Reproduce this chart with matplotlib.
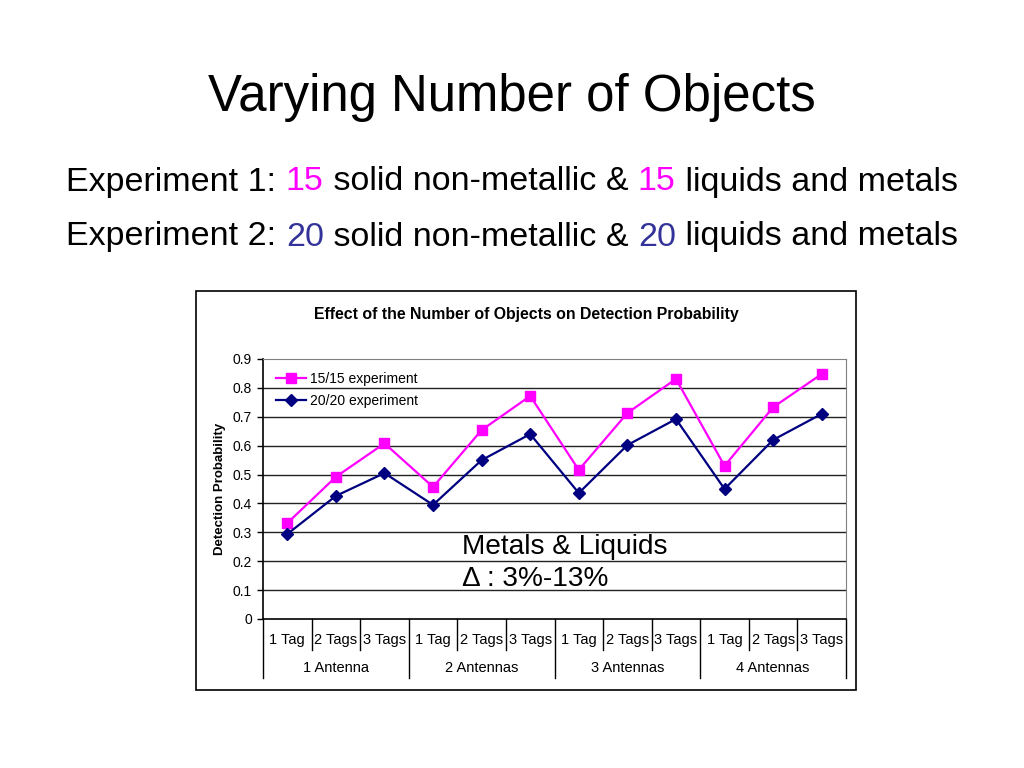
import matplotlib
matplotlib.use("Agg")
import matplotlib.pyplot as plt
import matplotlib.patches as mpatches
import matplotlib.transforms as mtransforms

plt.rcParams["font.family"] = ["Liberation Sans", "DejaVu Sans"]

# Data
tags = ["1 Tag", "2 Tags", "3 Tags"] * 4
antennas = ["1 Antenna", "2 Antennas", "3 Antennas", "4 Antennas"]
exp_15 = [0.332, 0.492, 0.608, 0.457, 0.654, 0.772, 0.516, 0.713, 0.831, 0.530, 0.733, 0.848]
exp_20 = [0.294, 0.426, 0.505, 0.395, 0.550, 0.640, 0.436, 0.602, 0.692, 0.450, 0.620, 0.710]
y_ticks = [0, 0.1, 0.2, 0.3, 0.4, 0.5, 0.6, 0.7, 0.8, 0.9]

MAGENTA = "#ff00ff"
NAVY = "#000080"
BLUE_TXT = "#333399"

W, H = 1024, 768
fig = plt.figure(figsize=(W / 100, H / 100), dpi=100)


def fx(px):
    return px / W


def fy(py):
    return 1 - py / H


# Slide title
fig.text(0.5, fy(97), "Varying Number of Objects", ha="center", va="center", fontsize=36.7)


def colored_line(y, parts, size=24.5):
    """Draw text segments with different colours side by side, centred."""
    texts = [fig.text(0, y, s, color=c, fontsize=size, ha="left", va="center")
             for s, c in parts]
    fig.canvas.draw()
    r = fig.canvas.get_renderer()
    widths = [t.get_window_extent(r).width for t in texts]
    x = (W - sum(widths)) / 2
    for t, w in zip(texts, widths):
        t.set_position((x / W, y))
        x += w


colored_line(fy(182), [("Experiment 1: ", "black"), ("15", MAGENTA),
                       (" solid non-metallic & ", "black"), ("15", MAGENTA),
                       (" liquids and metals", "black")])
colored_line(fy(237), [("Experiment 2: ", "black"), ("20", BLUE_TXT),
                       (" solid non-metallic & ", "black"), ("20", BLUE_TXT),
                       (" liquids and metals", "black")])

# Chart box
fig.patches.append(mpatches.Rectangle((fx(196), fy(690)), fx(856) - fx(196), fy(291) - fy(690),
                                      transform=fig.transFigure, fill=False,
                                      edgecolor="black", linewidth=1.2))
fig.text(fx(526), fy(314), "Effect of the Number of Objects on Detection Probability",
         ha="center", va="center", fontsize=11.4, fontweight="bold")

ax = fig.add_axes([fx(263), fy(619), fx(846) - fx(263), fy(359) - fy(619)])
x = list(range(len(tags)))
ax.plot(x, exp_15, color=MAGENTA, lw=1.6, marker="s", ms=7.5, label="15/15 experiment", zorder=3)
ax.plot(x, exp_20, color=NAVY, lw=1.6, marker="D", ms=6, label="20/20 experiment", zorder=3)

ax.set_xlim(-0.5, len(tags) - 0.5)
ax.set_ylim(0, 0.9)
ax.set_yticks(y_ticks)
ax.set_yticklabels([f"{v:g}" for v in y_ticks], fontsize=10)
ax.tick_params(axis="y", length=4, width=1, pad=4)
ax.set_xticks([])
for yv in y_ticks[1:-1]:
    ax.axhline(yv, color="#222222", lw=1, zorder=1)
ax.spines["top"].set_color("#808080")
ax.spines["right"].set_color("#808080")
ax.spines["left"].set_linewidth(1.2)
ax.spines["bottom"].set_linewidth(1.2)

ax.set_ylabel("Detection Probability", fontsize=9.5, fontweight="bold", labelpad=5)

# Two-level category axis
trans = mtransforms.blended_transform_factory(ax.transData, ax.transAxes)
y_tag = -31 / 260
y_ant = -59 / 260
for k in range(len(tags) + 1):
    bottom = y_ant if k % 3 == 0 else y_tag
    ax.plot([k - 0.5, k - 0.5], [0, bottom], color="black", lw=1, transform=trans, clip_on=False)
for i, t in enumerate(tags):
    ax.text(i, -21 / 260, t, ha="center", va="center", fontsize=10.5, transform=trans)
for j, a in enumerate(antennas):
    ax.text(3 * j + 1, -49 / 260, a, ha="center", va="center", fontsize=10.5, transform=trans)

ax.legend(loc="upper left", bbox_to_anchor=(0.0, 1.0), frameon=False, fontsize=10,
          handlelength=2.2, handletextpad=0.3, labelspacing=0.62, borderaxespad=0.5)

# Annotation
fig.text(fx(462), fy(547), "Metals & Liquids", ha="left", va="center", fontsize=20.2)
fig.text(fx(462), fy(579), "\u0394 : 3%-13%", ha="left", va="center", fontsize=20.2)

fig.savefig("out.png", dpi=100)
